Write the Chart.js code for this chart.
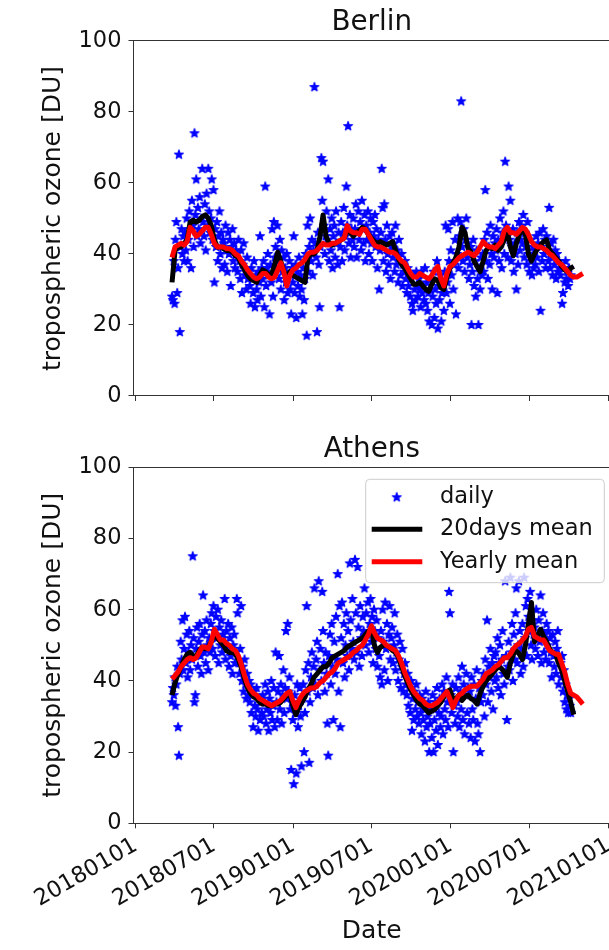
<!DOCTYPE html>
<html>
<head>
<meta charset="utf-8">
<script src="https://cdn.jsdelivr.net/npm/chart.js@4.4.1/dist/chart.umd.min.js"></script>
<style>
  html, body { margin: 0; padding: 0; background: #fff; overflow: hidden; }
  body { width: 609px; height: 950px; position: relative; }
  canvas { position: absolute; left: 0; }
  #berlin { top: 0; }
  #athens { top: 420px; }
</style>
</head>
<body>
<canvas id="berlin" width="616" height="420"></canvas>
<canvas id="athens" width="616" height="530"></canvas>
<script>
// x axis tick labels (dates, yyyymmdd)
const tickLabels = ['20180101', '20180701', '20190101', '20190701', '20200101', '20200701', '20210101'];

// daily values: every 2nd day from dailyStart
const dailyStart = '20180326';
const dailyStep = 2;
// running means: sampled every 7th day from meanStart
const meanStart = '20180326';
const meanStep = 7;

const berlinDaily = [
  28, 27, 38, 26, 44, 49, 29, 36, 68, 18, 42, 47, 40, 45, 38,
  46, 41, 50, 38, 44, 52, 47, 36, 55, 48, 42, 74, 51, 61, 45,
  53, 47, 56, 43, 50, 64, 49, 45, 54, 41, 57, 48, 64, 52, 46,
  50, 61, 44, 58, 32, 47, 42, 49, 38, 45, 52, 40, 46, 36, 44,
  43, 37, 48, 41, 35, 46, 40, 44, 31, 42, 47, 38, 43, 36, 41,
  40, 35, 44, 38, 33, 41, 29, 37, 43, 34, 36, 30, 39, 33, 35,
  31, 26, 36, 33, 29, 38, 25, 34, 30, 27, 35, 32, 45, 28, 36,
  33, 38, 25, 59, 31, 36, 40, 34, 23, 37, 32, 47, 28, 49, 39,
  42, 36, 48, 38, 33, 44, 30, 41, 35, 39, 27, 36, 32, 40, 29,
  34, 38, 30, 23, 36, 32, 45, 29, 37, 22, 35, 31, 39, 28, 34,
  30, 23, 36, 27, 33, 40, 17, 48, 35, 42, 50, 38, 44, 34, 41,
  87, 43, 39, 18, 46, 37, 25, 42, 67, 55, 66, 48, 40, 45, 52,
  44, 61, 38, 47, 41, 50, 36, 45, 48, 39, 52, 43, 37, 46, 25,
  42, 49, 38, 46, 53, 41, 45, 59, 48, 76, 43, 51, 39, 47, 44,
  50, 42, 47, 54, 39, 46, 52, 44, 49, 41, 55, 47, 43, 51, 38,
  48, 44, 52, 40, 46, 50, 43, 38, 49, 45, 51, 42, 47, 36, 44,
  30, 41, 46, 64, 53, 38, 54, 44, 35, 48, 40, 37, 45, 33, 42,
  46, 39, 43, 35, 48, 37, 41, 32, 44, 38, 34, 40, 31, 37, 35,
  38, 33, 29, 36, 31, 35, 28, 33, 26, 24, 34, 30, 27, 35, 31,
  28, 33, 30, 25, 35, 29, 31, 27, 36, 26, 32, 24, 29, 21, 30,
  33, 20, 28, 35, 22, 30, 26, 38, 19, 31, 27, 34, 21, 29, 32,
  24, 35, 48, 29, 32, 47, 38, 26, 41, 34, 49, 30, 37, 44, 23,
  40, 50, 36, 45, 49, 83, 42, 38, 47, 35, 44, 50, 39, 43, 33,
  37, 42, 20, 35, 44, 31, 38, 28, 41, 33, 20, 36, 30, 39, 34,
  40, 35, 44, 58, 38, 46, 33, 42, 37, 48, 40, 30, 45, 39, 43,
  41, 47, 29, 44, 38, 50, 43, 36, 46, 52, 40, 66, 48, 45, 39,
  59, 44, 55, 38, 42, 47, 35, 43, 40, 30, 46, 37, 49, 41, 44,
  48, 43, 51, 39, 46, 42, 37, 49, 40, 35, 44, 38, 34, 42, 36,
  41, 37, 45, 39, 43, 35, 46, 24, 42, 38, 47, 40, 44, 36, 45,
  41, 38, 53, 36, 43, 39, 34, 44, 37, 41, 33, 40, 35, 38, 36,
  34, 37, 26, 29, 36, 32, 38, 33, 35, 31, 36, 33, 34
];
const berlin20d = [
  32, 41, 42, 42, 43, 44, 49, 49.5, 49, 49.5,
  50.5, 51, 50, 48, 44, 42, 42, 41.5, 41, 41,
  40.5, 39.5, 39, 37, 35.5, 34, 33, 32.5, 32, 34,
  35.5, 35, 34, 34.5, 37, 40.5, 38, 35, 33.5, 35,
  34, 33.5, 33, 32.5, 32, 39, 40, 40, 41, 45,
  51, 45, 43, 42.5, 43, 43.5, 44, 44.5, 47, 46,
  45, 46, 46.5, 47.5, 47, 45.5, 44.5, 43.5, 43, 43.5,
  43, 42.5, 43, 43.5, 41, 38.5, 37, 36, 34.5, 33,
  31.5, 31.5, 32, 31, 30, 29.5, 31.5, 33, 32.5, 30.5,
  30, 33.5, 36, 37.5, 39, 42, 47.5, 46, 41.5, 40.5,
  38, 36.5, 35, 38, 41, 42, 41.5, 42.5, 41, 42,
  44, 46.5, 42, 39.5, 43, 45.5, 47, 45.5, 40, 38,
  40, 41.5, 42.5, 43.5, 44, 41, 40, 39, 38, 36.5,
  35.5, 35, 36, 36.5, null, null, null
];
const berlinYearly = [
  39, 42, 42.5, 43, 42.5, 43.5, 47.5, 46.5, 45, 45.5,
  46.5, 47.5, 47.5, 45.5, 43, 42, 42, 42, 41.5, 41.5,
  41, 40, 39.5, 38, 37, 35.5, 34.5, 33.5, 33, 33.5,
  34.5, 34.5, 33.5, 33, 33.5, 35.5, 37.5, 35, 31, 34,
  35.5, 36, 37, 37.5, 38.5, 40, 40.5, 40.5, 41, 42,
  43, 42.5, 42.5, 43, 43, 43.5, 44, 44.5, 48, 46.5,
  46, 46, 45.5, 47, 47, 45.5, 44, 42.5, 42, 42,
  41.5, 41, 40.5, 40.5, 40, 39, 38, 37.5, 36, 34.5,
  33.5, 33.5, 34.5, 34, 33.5, 33, 34, 35.5, 36.5, 33,
  31, 34.5, 36.5, 37, 38, 39, 39.5, 40, 40.5, 40,
  39.5, 40.5, 42, 43.5, 42.5, 42, 42, 41.5, 42.5, 43.5,
  46.5, 47.5, 46, 46, 45.5, 46.5, 47.5, 47, 45.5, 43.5,
  42.5, 42, 42, 41.5, 41, 40, 39.5, 38.5, 37.5, 37,
  36, 35, 34, 33.5, 33.5, 34, 34.5
];

const athensDaily = [
  34, 38, 36, 41, 33, 39, 44, 27, 19, 42, 51, 46, 57, 43, 49,
  58, 45, 53, 41, 48, 54, 43, 50, 46, 75, 52, 34, 36, 49, 55,
  44, 51, 56, 47, 42, 53, 64, 48, 54, 45, 57, 50, 43, 52, 48,
  56, 59, 49, 61, 54, 47, 58, 52, 60, 45, 55, 50, 57, 48, 53,
  51, 63, 46, 54, 49, 56, 44, 52, 47, 55, 42, 50, 53, 45, 48,
  63, 59, 45, 42, 49, 61, 40, 44, 37, 46, 39, 35, 42, 36, 40,
  34, 39, 31, 36, 27, 37, 33, 30, 38, 32, 26, 35, 29, 34, 31,
  36, 30, 34, 39, 28, 32, 37, 26, 35, 31, 40, 29, 33, 38, 27,
  48, 34, 29, 37, 47, 32, 39, 28, 36, 43, 31, 38, 54, 35, 56,
  37, 41, 32, 15, 34, 29, 11, 36, 31, 14, 39, 27, 33, 38, 30,
  16, 35, 39, 20, 31, 43, 61, 37, 45, 17, 34, 41, 48, 38, 44,
  66, 39, 46, 51, 36, 68, 43, 49, 40, 65, 54, 45, 37, 48, 42,
  28, 19, 47, 53, 39, 56, 44, 29, 51, 42, 58, 46, 70, 37, 61,
  27, 52, 62, 45, 56, 41, 50, 59, 47, 54, 43, 73, 57, 49, 63,
  51, 46, 74, 59, 48, 72, 55, 44, 61, 52, 47, 58, 54, 66, 50,
  59, 53, 62, 48, 56, 63, 51, 58, 45, 60, 54, 49, 57, 44, 52,
  47, 41, 54, 39, 60, 51, 43, 62, 49, 56, 40, 53, 61, 46, 52,
  55, 45, 50, 59, 43, 48, 53, 40, 46, 51, 38, 44, 49, 37, 42,
  45, 39, 36, 42, 33, 38, 31, 40, 26, 35, 29, 37, 32, 39, 30,
  34, 28, 36, 31, 25, 35, 29, 32, 23, 37, 27, 30, 34, 20, 28,
  32, 24, 36, 20, 29, 34, 26, 38, 22, 31, 35, 27, 30, 39, 25,
  37, 32, 29, 41, 34, 27, 65, 59, 36, 31, 39, 20, 33, 28, 38,
  34, 30, 41, 27, 37, 32, 44, 29, 39, 25, 36, 42, 31, 38, 28,
  37, 24, 41, 32, 29, 39, 23, 35, 43, 28, 25, 38, 20, 34, 40,
  36, 42, 30, 46, 39, 57, 34, 44, 41, 49, 37, 45, 32, 47, 40,
  48, 41, 52, 38, 45, 50, 36, 46, 54, 42, 39, 68, 47, 29, 44,
  51, 43, 69, 48, 56, 40, 53, 46, 59, 66, 45, 50, 68, 54, 42,
  49, 56, 44, 69, 52, 61, 47, 63, 58, 54, 65, 50, 46, 57, 53,
  55, 49, 60, 52, 47, 57, 51, 64, 45, 54, 59, 48, 53, 46, 56,
  50, 54, 45, 52, 48, 41, 53, 47, 44, 51, 42, 49, 54, 39, 46,
  45, 41, 47, 37, 43, 34, 39, 32, 36, 31, 35, 33, 31
];
const athens20d = [
  36, 39.5, 42, 44, 46, 47.5, 48, 47, 47, 48.5,
  49.5, 49, 49.5, 51, 53, 52, 51, 50, 48.5, 48,
  48, 47.5, 46, 43.5, 40.5, 38, 36.5, 35.5, 35, 34,
  33.5, 33.5, 33, 33, 33.5, 33.5, 34, 35, 36, 36.5,
  33, 30.5, 32.5, 34, 35.5, 37.5, 39, 41, 42, 43,
  44, 44, 45, 46.5, 47, 47.5, 48, 48.5, 49.5, 50,
  50.5, 51, 51.5, 52, 53, 54, 54.5, 50, 48, 49.5,
  50, 50, 49.5, 48.5, 48, 46.5, 44, 41.5, 39.5, 37.5,
  36, 34.5, 33.5, 33, 32, 31, 31.5, 32, 33, 34,
  35.5, 37, 37.5, 35, 35, 36, 34.5, 35.5, 36, 35,
  34.5, 33.5, 36.5, 38.5, 40, 41, 42, 43, 44, 43.5,
  42.5, 41, 45, 47.5, 48.5, 47.5, 46, 50, 56, 62,
  51, 52.5, 54.5, 52.5, 51, 49, 48, 47.5, 45, 43,
  40, 37, 34, 30.5, null, null, null
];
const athensYearly = [
  40.5, 41.5, 42.5, 44, 45, 46, 46.5, 46, 46.5, 48,
  49.5, 49.5, 49, 51, 54.5, 53, 51.5, 51.5, 50.5, 50,
  49, 48.5, 47, 44.5, 41.5, 39, 37.5, 36.5, 36, 35,
  34.5, 34, 33.5, 33, 33.5, 34, 34.5, 35.5, 36.5, 37,
  34.5, 32.5, 34.5, 36, 37, 37.5, 38, 38, 38.5, 39.5,
  40, 41, 42, 42.5, 43.5, 45, 45.5, 46, 46.5, 47,
  48, 48.5, 49.5, 50, 51.5, 53, 55.5, 53.5, 52, 51.5,
  51, 50, 49.5, 49, 48.5, 47, 45, 42.5, 40.5, 38.5,
  37, 36, 35, 34.5, 33.5, 33, 33, 33.5, 34, 35,
  36, 37, 35, 32.5, 34.5, 36, 36.5, 37.5, 38, 38.5,
  38.5, 38.5, 39.5, 40.5, 42, 42.5, 43, 44, 44.5, 45.5,
  46.5, 46.5, 47.5, 49, 50, 50.5, 51.5, 52.5, 54.5, 55,
  52.5, 52, 51.5, 51.5, 50, 48.5, 48, 47.5, 47.5, 45,
  42.5, 39, 36.5, 36, 35.5, 34.5, 33.5
];

const FONT = 'DejaVu Sans';
const TEXT = '#111';
const SPINE = '#333';
Chart.defaults.font.family = FONT;

// days since 2018-01-01
const dayOf = s => (Date.UTC(+s.slice(0, 4), +s.slice(4, 6) - 1, +s.slice(6, 8)) - Date.UTC(2018, 0, 1)) / 864e5;
const toPoints = (vals, start, step) =>
  vals.map((v, i) => ({ x: dayOf(start) + i * step, y: v })).filter(p => p.y != null);

// filled star like matplotlib's '*' marker
function starImage() {
  const c = document.createElement('canvas');
  c.width = c.height = 14;
  const g = c.getContext('2d');
  g.beginPath();
  for (let k = 0; k < 10; k++) {
    const r = k % 2 ? 4.6 * 0.382 : 4.6;
    const a = -Math.PI / 2 + k * Math.PI / 5;
    g.lineTo(7 + r * Math.cos(a), 7 + r * Math.sin(a));
  }
  g.closePath();
  g.fillStyle = '#0000ff';
  g.fill();
  g.lineWidth = 1.3;
  g.lineJoin = 'round';
  g.strokeStyle = '#0000ff';
  g.stroke();
  return c;
}
const star = starImage();

// axes frame on all four sides
const spines = {
  id: 'spines',
  afterDraw(chart) {
    const { ctx, chartArea: a } = chart;
    const l = Math.floor(a.left) + 0.5, t = Math.floor(a.top) + 0.5;
    const b = Math.floor(a.bottom) + 0.5, r = Math.floor(a.right) + 0.5;
    ctx.save();
    ctx.strokeStyle = SPINE;
    ctx.lineWidth = 1;
    ctx.strokeRect(l, t, r - l, b - t);
    ctx.restore();
  }
};

// legend inside the lower panel, upper right
const innerLegend = {
  id: 'innerLegend',
  afterDatasetsDraw(chart) {
    const { ctx } = chart;
    const x0 = 365.7, y0 = 59.3, w = 238.6, h = 103.4;
    ctx.save();
    ctx.beginPath();
    ctx.roundRect(x0, y0, w, h, 4);
    ctx.fillStyle = 'rgba(255,255,255,0.8)';
    ctx.fill();
    ctx.strokeStyle = '#cccccc';
    ctx.lineWidth = 1;
    ctx.stroke();
    const rows = [77.3, 109.3, 141.7];
    chart.data.datasets.forEach((ds, i) => {
      const y = rows[i];
      if (ds.showLine) {
        ctx.beginPath();
        ctx.moveTo(371.7, y);
        ctx.lineTo(422.3, y);
        ctx.strokeStyle = ds.borderColor;
        ctx.lineWidth = ds.borderWidth;
        ctx.stroke();
      } else {
        ctx.drawImage(star, 396.7 - star.width / 2, y - star.height / 2);
      }
      ctx.fillStyle = TEXT;
      ctx.font = '22.5px "' + FONT + '"';
      ctx.textBaseline = 'middle';
      ctx.textAlign = 'left';
      ctx.fillText(ds.label, 440, y);
    });
    ctx.restore();
  }
};

function makeChart(id, cfg) {
  return new Chart(document.getElementById(id), {
    type: 'scatter',
    data: {
      datasets: [
        { label: 'daily', data: toPoints(cfg.daily, dailyStart, dailyStep),
          pointStyle: star, pointRadius: 5, showLine: false, order: 3 },
        { label: '20days mean', data: toPoints(cfg.mean20, meanStart, meanStep),
          showLine: true, borderColor: '#000000', borderWidth: 5, pointRadius: 0,
          borderJoinStyle: 'round', borderCapStyle: 'butt', order: 2 },
        { label: 'Yearly mean', data: toPoints(cfg.yearly, meanStart, meanStep),
          showLine: true, borderColor: '#ff0000', borderWidth: 5, pointRadius: 0,
          borderJoinStyle: 'round', borderCapStyle: 'butt', order: 1 }
      ]
    },
    options: {
      responsive: false,
      animation: false,
      events: [],
      layout: { padding: 0 },
      plugins: {
        legend: { display: false },
        tooltip: { enabled: false },
        title: {
          display: true, text: cfg.title, fullSize: false, color: TEXT,
          font: { size: 27.8, weight: 'normal' }, padding: cfg.titlePad
        }
      },
      scales: {
        x: {
          type: 'linear', min: -5.3, max: 1099,
          afterBuildTicks: ax => { ax.ticks = tickLabels.map(l => ({ value: dayOf(l) })); },
          afterFit: ax => { ax.height = cfg.xHeight; ax.paddingLeft = 0; ax.paddingRight = 0; },
          ticks: {
            display: cfg.showDates, autoSkip: false, minRotation: 30, maxRotation: 30,
            padding: 4, color: TEXT, font: { size: 22.5 },
            callback: (v, i) => tickLabels[i]
          },
          grid: { drawOnChartArea: false, drawTicks: true, tickLength: 5, tickColor: SPINE, lineWidth: 1 },
          border: { display: false },
          title: {
            display: cfg.showDates, text: 'Date', color: TEXT,
            font: { size: 25 }, padding: { top: 0, bottom: 3.7 }
          }
        },
        y: {
          min: 0, max: 100,
          afterFit: ax => { ax.width = 133.5; ax.paddingTop = 0; ax.paddingBottom = 0; },
          ticks: { stepSize: 20, padding: 7, color: TEXT, font: { size: 22.5 } },
          grid: { drawOnChartArea: false, drawTicks: true, tickLength: 5, tickColor: SPINE, lineWidth: 1 },
          border: { display: false },
          title: {
            display: true, text: 'tropospheric ozone [DU]', color: TEXT,
            font: { size: 25 }, padding: { top: 38, bottom: 0 }
          }
        }
      }
    },
    plugins: cfg.legend ? [spines, innerLegend] : [spines]
  });
}

makeChart('berlin', {
  title: 'Berlin', daily: berlinDaily, mean20: berlin20d, yearly: berlinYearly,
  titlePad: { top: 6.3, bottom: 1.3 }, xHeight: 24, showDates: false, legend: false
});
makeChart('athens', {
  title: 'Athens', daily: athensDaily, mean20: athens20d, yearly: athensYearly,
  titlePad: { top: 12.6, bottom: 1.3 }, xHeight: 126.7, showDates: true, legend: true
});
</script>
</body>
</html>
